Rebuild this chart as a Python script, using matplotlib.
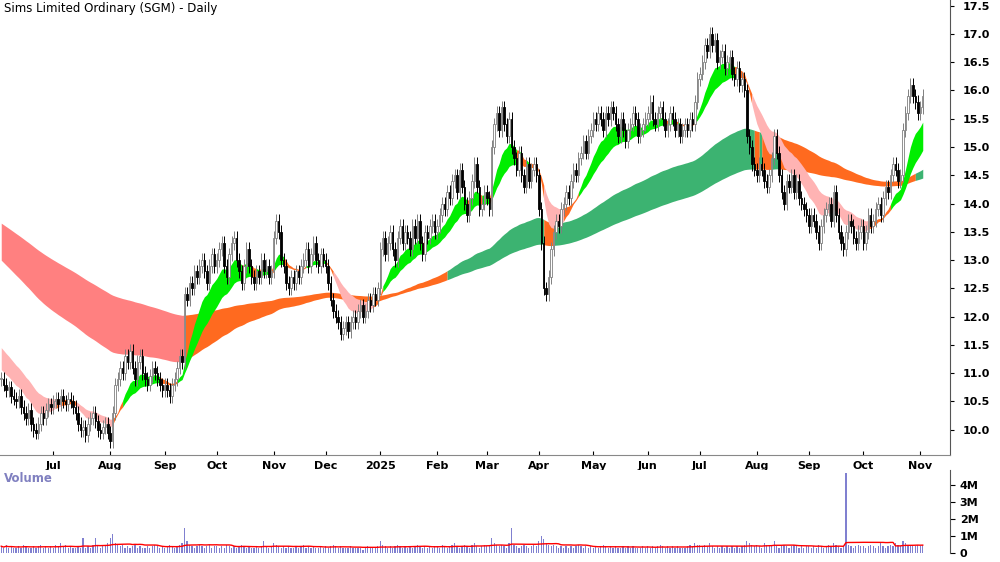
import numpy as np
import pandas as pd
import matplotlib
matplotlib.use("Agg")
import matplotlib.pyplot as plt
from matplotlib.patches import Rectangle

# closes before the visible window, only used to warm up the ribbons
warmup_closes = [14.6, 14.8, 14.7, 14.9, 15.0, 14.9, 15.1, 15.2, 15.0, 15.1,
                 15.3, 15.2, 15.4, 15.3, 15.5, 15.4, 15.6, 15.5, 15.4, 15.6,
                 15.5, 15.7, 15.6, 15.5, 15.4, 15.6, 15.5, 15.3, 15.4, 15.2,
                 15.3, 15.1, 15.2, 15.0, 15.1, 14.9, 15.0, 14.8, 14.9, 14.7,
                 14.8, 14.9, 14.7, 14.8, 15.0, 14.9, 14.7, 14.8, 14.6, 14.7,
                 14.5, 14.6, 14.4, 14.5, 14.3, 14.4, 14.2, 14.3, 14.4, 14.2,
                 14.3, 14.1, 14.2, 14.0, 14.1, 14.2, 14.0, 13.9, 14.0, 13.8,
                 13.9, 14.0, 13.8, 13.7, 13.8, 13.6, 13.7, 13.5, 13.6, 13.4,
                 13.5, 13.3, 13.4, 13.2, 13.3, 13.1, 13.2, 13.0, 12.9, 13.0,
                 12.8, 12.7, 12.8, 12.6, 12.5, 12.4, 12.3, 12.2, 12.1, 12.0,
                 11.9, 11.8, 11.7, 11.6, 11.5, 11.6, 11.4, 11.3, 11.4, 11.2,
                 11.3, 11.1, 11.2, 11.0, 11.1, 10.9, 11.0, 10.8, 10.9, 10.9]
# closes, one list per month (first list starts 31 May 2024)
month_closes = [
    [10.9, 10.8, 10.7, 10.75, 10.6, 10.55, 10.5, 10.6, 10.4, 10.3, 10.2, 10.35, 10.1, 10.0, 9.95, 10.1, 10.3, 10.2, 10.35, 10.45, 10.4],
    [10.5, 10.55, 10.45, 10.6, 10.5, 10.45, 10.55, 10.5, 10.4, 10.3, 10.1, 10.0, 10.05, 9.9, 10.1, 10.2, 10.3, 10.15, 10.0, 9.95, 10.05, 10.1, 9.95],
    [9.8, 10.3, 10.8, 10.9, 11.1, 11.0, 11.3, 11.2, 11.4, 11.1, 10.9, 11.2, 11.3, 11.0, 10.9, 10.8, 10.95, 11.1, 11.0, 10.9, 10.8, 10.7],
    [10.8, 10.7, 10.6, 10.8, 10.9, 11.1, 11.3, 11.2, 12.4, 12.3, 12.6, 12.5, 12.8, 12.7, 12.9, 13.0, 12.8, 12.6, 12.9, 13.1, 12.9],
    [13.0, 13.2, 13.3, 12.9, 12.7, 13.1, 13.3, 13.4, 13.0, 12.8, 12.6, 12.9, 13.2, 12.9, 12.7, 12.6, 12.8, 12.7, 13.0, 12.8, 12.9, 12.7, 12.8],
    [13.4, 13.7, 13.5, 13.0, 12.9, 12.6, 12.5, 12.7, 12.6, 12.8, 12.7, 12.9, 13.0, 13.2, 12.9, 13.1, 13.3, 13.0, 12.9, 13.1, 13.0],
    [12.9, 12.6, 12.3, 12.1, 12.0, 11.9, 11.7, 11.8, 11.9, 11.75, 11.9, 12.0, 11.9, 12.1, 12.2, 12.0, 12.1, 12.3, 12.2, 12.4, 12.3, 12.5],
    [13.2, 13.4, 13.1, 13.3, 13.5, 13.2, 13.0, 13.4, 13.6, 13.3, 13.5, 13.4, 13.2, 13.6, 13.4, 13.7, 13.3, 13.1, 13.5, 13.4, 13.6, 13.7, 13.5],
    [13.6, 13.8, 14.0, 13.9, 14.2, 14.1, 14.4, 14.5, 14.2, 14.6, 14.3, 14.0, 13.8, 14.1, 14.4, 14.7, 14.3, 13.9, 14.0, 14.2],
    [14.1, 13.9, 15.0, 15.4, 15.6, 15.3, 15.7, 15.4, 15.2, 15.5, 15.0, 14.8, 14.6, 14.9, 14.5, 14.3, 14.7, 14.4, 14.6, 14.7, 14.5],
    [13.9, 13.3, 12.5, 12.4, 12.7, 13.2, 13.5, 13.7, 13.6, 13.9, 14.0, 14.2, 14.1, 14.4, 14.6, 14.5, 14.8, 14.9, 15.1, 14.9, 15.2, 15.3],
    [15.5, 15.4, 15.6, 15.5, 15.3, 15.6, 15.5, 15.7, 15.6, 15.4, 15.2, 15.5, 15.3, 15.1, 15.3, 15.4, 15.6, 15.5, 15.2, 15.3, 15.4, 15.5],
    [15.6, 15.8, 15.5, 15.4, 15.6, 15.7, 15.5, 15.3, 15.4, 15.6, 15.5, 15.3, 15.4, 15.2, 15.3, 15.4, 15.3, 15.5, 15.4, 15.8, 16.2],
    [16.3, 16.5, 16.8, 16.7, 17.0, 16.8, 16.9, 16.5, 16.6, 16.7, 16.4, 16.5, 16.6, 16.3, 16.2, 16.4, 16.1, 16.2, 16.0, 15.2, 15.0, 14.7, 14.6],
    [14.5, 14.7, 14.6, 14.4, 14.3, 14.5, 14.8, 15.2, 14.9, 14.5, 14.2, 14.0, 14.4, 14.3, 14.5, 14.2, 14.4, 14.1, 14.0, 13.9, 13.8],
    [13.6, 13.8, 13.7, 13.5, 13.3, 13.6, 13.8, 13.9, 14.0, 13.7, 14.2, 13.8, 13.5, 13.3, 13.2, 13.5, 13.7, 13.6, 13.4, 13.3, 13.5, 13.6],
    [13.3, 13.5, 13.8, 13.6, 13.7, 13.9, 14.0, 13.8, 14.1, 14.3, 14.2, 14.5, 14.7, 14.6, 14.4, 14.5, 15.3, 15.6, 15.9, 16.1, 15.9, 15.8, 15.6],
    [15.7, 15.9],
]
# volume in units of 0.1M shares
month_volumes = [
    "4 3 5 3 4 3 3 4 3 5 4 3 3 4 3 4 5 3 4 3 4",
    "3 5 4 6 4 5 3 4 3 3 4 3 9 3 4 3 5 9 4 3 4 5 6",
    "9 11 6 5 4 5 3 4 3 4 5 3 4 3 3 4 3 4 5 4 3 4",
    "3 4 5 4 3 4 5 6 15 7 5 4 3 4 5 4 3 4 5 3 4",
    "4 3 4 3 5 4 3 4 3 4 5 4 3 4 3 3 4 3 4 7 4 3 4",
    "6 5 4 3 4 3 4 3 3 4 3 4 5 3 4 3 4 3 3 4 3",
    "4 3 4 5 4 3 4 3 3 3 4 3 3 3 3 2 3 4 3 3 3 4",
    "7 5 4 3 4 3 4 5 4 3 4 3 4 3 4 5 4 3 4 3 4 3 4",
    "4 3 5 4 3 4 5 6 4 3 4 5 4 3 5 6 4 3 4 5",
    "4 5 9 6 5 4 5 4 3 6 15 5 4 3 4 5 4 3 4 5 4",
    "7 10 8 6 5 4 5 4 3 4 3 4 3 4 3 4 5 4 3 4 3 4",
    "3 4 3 4 5 4 3 4 3 4 3 3 4 3 4 3 4 3 3 3 4 3",
    "4 3 4 3 4 5 4 3 4 3 4 3 4 3 3 3 4 5 4 6 5",
    "5 4 5 4 6 4 3 4 3 4 3 4 3 4 3 4 3 4 5 7 6 5 4",
    "5 4 3 6 5 4 5 7 4 3 4 5 4 3 4 5 4 3 4 3 4",
    "4 3 4 3 5 4 3 4 5 4 6 5 4 3 4 47 5 4 3 4 5 4",
    "4 3 4 5 4 3 4 6 4 3 4 5 4 6 5 4 7 6 5 4 5 4 5",
    "4 5",
]
month_labels = ["Jul", "Aug", "Sep", "Oct", "Nov", "Dec", "2025", "Feb", "Mar",
                "Apr", "May", "Jun", "Jul", "Aug", "Sep", "Oct", "Nov"]

closes = np.array([c for m in month_closes for c in m])
volumes = np.array([int(v) for m in month_volumes for v in m.split()]) / 10.0
n = len(closes)
dates = pd.bdate_range("2024-05-31", periods=n)
x = np.arange(n)

opens = np.r_[warmup_closes[-1], closes[:-1]]
highs = np.maximum(opens, closes) + 0.12
lows = np.minimum(opens, closes) - 0.12

# moving average ribbons, warmed up on earlier closes
allc = pd.Series(np.r_[warmup_closes, closes])
w = len(warmup_closes)
short = np.array([allc.ewm(span=s, adjust=False).mean().values[w:] for s in (12, 14, 16, 19, 21, 25)])
long_ = np.array([allc.ewm(span=s, adjust=False).mean().values[w:] for s in (100, 115, 130, 145, 165, 190)])

fig = plt.figure(figsize=(10, 5.62), dpi=100)
ax = fig.add_axes([0.0, 0.19, 0.95, 0.81])
axv = fig.add_axes([0.0, 0.016, 0.95, 0.148])


def ribbon(band, up_col, dn_col, mid_col):
    # colour from the ordering of the averages in the band and where the close sits
    lo, hi = band.min(axis=0), band.max(axis=0)
    d = np.diff(band, axis=0)
    up = (d < 0).all(axis=0) & (closes > lo)
    dn = (d > 0).all(axis=0) & (closes < hi)
    col = np.where(up, 0, np.where(dn, 1, 2))
    cols = [up_col, dn_col, mid_col]
    start = 0
    for i in range(1, n + 1):
        if i == n or col[i] != col[start]:
            sl = slice(start, min(i + 1, n))
            ax.fill_between(x[sl], lo[sl], hi[sl], color=cols[col[start]], lw=0, zorder=1)
            start = i


ribbon(long_, "#3cb371", "#ff8080", "#ff6a1f")
ribbon(short, "#00ee00", "#ffb3b3", "#ff6a1f")

bw = 0.6
for i in range(n):
    o, c = opens[i], closes[i]
    if c >= o:
        ax.vlines(x[i], lows[i], highs[i], color="#808080", lw=0.7, zorder=2)
        ax.add_patch(Rectangle((x[i] - bw / 2, o), bw, max(c - o, 0.01),
                               facecolor="white", edgecolor="#808080", lw=0.6, zorder=3))
    else:
        ax.vlines(x[i], lows[i], highs[i], color="black", lw=0.7, zorder=2)
        ax.add_patch(Rectangle((x[i] - bw / 2, c), bw, o - c,
                               facecolor="black", edgecolor="black", lw=0.6, zorder=3))

xmax = n - 1 + 11
ax.set_xlim(-0.5, xmax)
ax.set_ylim(9.55, 17.6)
ax.yaxis.tick_right()
ax.set_yticks(np.arange(10.0, 17.51, 0.5))
ax.set_yticklabels([f"{v:.1f}" for v in np.arange(10.0, 17.51, 0.5)], fontsize=8, fontweight="bold")
month_starts = [i for i in range(1, n)
                if dates[i].month != dates[i - 1].month and dates[i] >= pd.Timestamp("2024-07-01")]
ax.set_xticks(month_starts)
ax.set_xticklabels(month_labels[:len(month_starts)], fontsize=8, fontweight="bold")
ax.tick_params(axis="x", length=3, direction="in", pad=4)
ax.tick_params(axis="y", length=3, direction="out", pad=6)
for s in ("top", "left"):
    ax.spines[s].set_visible(False)
ax.spines["right"].set_color("#555555")
ax.spines["bottom"].set_color("#888888")
ax.text(0.004, 0.995, "Sims Limited Ordinary (SGM) - Daily", transform=ax.transAxes,
        ha="left", va="top", fontsize=8.5)

axv.bar(x, volumes, width=0.5, color="#8080d0", zorder=2)
axv.plot(x, pd.Series(volumes).rolling(20, min_periods=1).mean(), color="red", lw=1, zorder=3)
axv.set_xlim(-0.5, xmax)
axv.set_ylim(0, 4.9)
axv.yaxis.tick_right()
axv.set_yticks([0, 1, 2, 3, 4])
axv.set_yticklabels(["0", "1M", "2M", "3M", "4M"], fontsize=8, fontweight="bold")
axv.set_xticks([])
for s in ("top", "left", "bottom"):
    axv.spines[s].set_visible(False)
axv.spines["right"].set_color("#555555")
axv.text(0.004, 0.97, "Volume", transform=axv.transAxes, ha="left", va="top",
         fontsize=8.5, fontweight="bold", color="#8080c0")

fig.savefig("out.png", dpi=100)
